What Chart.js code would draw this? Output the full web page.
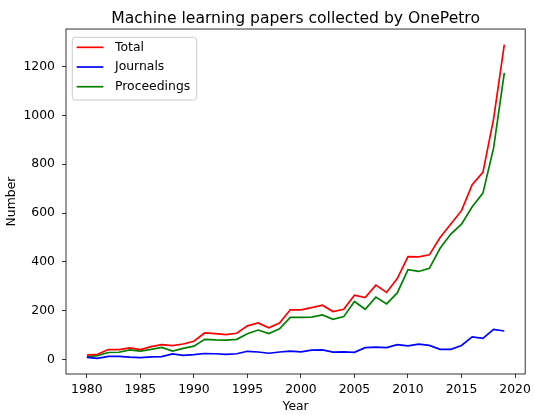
<!DOCTYPE html>
<html>
<head>
<meta charset="utf-8">
<script src="https://cdn.jsdelivr.net/npm/chart.js@4/dist/chart.umd.min.js"></script>
<style>
  html, body { margin: 0; padding: 0; background: #fff; }
  #wrap { width: 535px; height: 415px; }
</style>
</head>
<body>
<div id="wrap"><canvas id="chart" width="535" height="415"></canvas></div>
<script>
/* ── DATA ── */
const years = [1980, 1981, 1982, 1983, 1984, 1985, 1986, 1987, 1988, 1989,
               1990, 1991, 1992, 1993, 1994, 1995, 1996, 1997, 1998, 1999,
               2000, 2001, 2002, 2003, 2004, 2005, 2006, 2007, 2008, 2009,
               2010, 2011, 2012, 2013, 2014, 2015, 2016, 2017, 2018, 2019];
const total       = [18, 22, 41, 41, 48, 41, 53, 61, 57, 64,
                     75, 109, 106, 102, 108, 138, 150, 130, 150, 204,
                     204, 213, 223, 197, 206, 264, 254, 305, 275, 332,
                     422, 421, 429, 500, 555, 610, 716, 767, 986, 1290];
const journals    = [9, 5, 13, 13, 10, 8, 11, 12, 23, 17,
                     20, 25, 24, 21, 24, 34, 31, 26, 31, 35,
                     32, 39, 40, 31, 32, 30, 49, 51, 49, 61,
                     56, 63, 58, 42, 42, 58, 93, 87, 124, 117];
const proceedings = [12, 16, 29, 30, 40, 35, 42, 50, 35, 46,
                     55, 83, 81, 80, 83, 106, 121, 107, 126, 173,
                     173, 174, 183, 165, 176, 238, 206, 256, 228, 273,
                     368, 361, 374, 456, 514, 555, 626, 682, 867, 1174];
const xTicks = [1980, 1985, 1990, 1995, 2000, 2005, 2010, 2015, 2020];
const yTicks = [0, 200, 400, 600, 800, 1000, 1200];

const FONT = "'DejaVu Sans', sans-serif";
const FS = 12.4;
const pts = arr => arr.map((v, i) => ({ x: years[i], y: v }));

/* ── PLUGINS ── */
const frame = {
  id: 'frame',
  afterDatasetsDraw(chart) {
    const { ctx, chartArea: a } = chart;
    ctx.save();
    ctx.strokeStyle = '#000';
    ctx.lineWidth = 0.8;
    ctx.strokeRect(a.left, a.top, a.right - a.left, a.bottom - a.top);
    ctx.restore();
  }
};

const legendBox = {
  id: 'legendBox',
  afterDraw(chart) {
    const { ctx, chartArea: a } = chart;
    const x = a.left + 6.3, y = a.top + 8.3, w = 124.4, h = 62.7;
    const lineX0 = x + 4.4, lineX1 = x + 31, textX = x + 42.7;
    ctx.save();
    ctx.beginPath();
    ctx.roundRect(x, y, w, h, 3);
    ctx.fillStyle = 'rgba(255,255,255,0.8)';
    ctx.fill();
    ctx.strokeStyle = '#cccccc';
    ctx.lineWidth = 1;
    ctx.stroke();
    ctx.font = FS + 'px ' + FONT;
    chart.data.datasets.forEach((ds, i) => {
      const ly = y + 10 + i * 19.7;
      ctx.beginPath();
      ctx.moveTo(lineX0, ly);
      ctx.lineTo(lineX1, ly);
      ctx.strokeStyle = ds.borderColor;
      ctx.lineWidth = 1.7;
      ctx.stroke();
      ctx.fillStyle = '#000';
      ctx.textBaseline = 'middle';
      ctx.fillText(ds.label, textX, ly);
    });
    ctx.restore();
  }
};

/* ── CHART ── */
new Chart(document.getElementById('chart'), {
  type: 'line',
  data: {
    datasets: [
      { label: 'Total',       data: pts(total),       borderColor: '#ff0000' },
      { label: 'Journals',    data: pts(journals),    borderColor: '#0000ff' },
      { label: 'Proceedings', data: pts(proceedings), borderColor: '#008000' }
    ]
  },
  options: {
    responsive: false,
    animation: false,
    layout: { padding: { left: 0, right: 8, top: 0, bottom: 0 } },
    elements: {
      line:  { borderWidth: 1.7, tension: 0, fill: false },
      point: { radius: 0 }
    },
    plugins: {
      legend: { display: false },
      tooltip: { enabled: false },
      title: {
        display: true,
        fullSize: false,
        text: 'Machine learning papers collected by OnePetro',
        color: '#000',
        font: { family: FONT, size: 15.6, weight: 'normal', lineHeight: 1.2 },
        padding: { top: 9.5, bottom: 0.8 }
      }
    },
    scales: {
      x: {
        type: 'linear',
        min: 1978.05,
        max: 2020.95,
        afterBuildTicks: s => { s.ticks = xTicks.map(v => ({ value: v })); },
        afterFit: s => { s.height = 41; },
        grid: { drawOnChartArea: false, drawTicks: true, tickLength: 4, tickColor: '#000', tickWidth: 0.8 },
        border: { display: false },
        ticks: { color: '#000', padding: 4, maxRotation: 0, font: { family: FONT, size: FS },
                 callback: v => String(v) },
        title: { display: true, text: 'Year', color: '#000',
                 font: { family: FONT, size: FS }, padding: { top: 0, bottom: 1 } }
      },
      y: {
        min: -59,
        max: 1354,
        afterBuildTicks: s => { s.ticks = yTicks.map(v => ({ value: v })); },
        afterFit: s => { s.width = 66; },
        grid: { drawOnChartArea: false, drawTicks: true, tickLength: 4, tickColor: '#000', tickWidth: 0.8 },
        border: { display: false },
        ticks: { color: '#000', padding: 7, font: { family: FONT, size: FS },
                 callback: v => String(v) },
        title: { display: true, text: 'Number', color: '#000',
                 font: { family: FONT, size: FS }, padding: { top: 4.5, bottom: 0 } }
      }
    }
  },
  plugins: [frame, legendBox]
});
</script>
</body>
</html>
